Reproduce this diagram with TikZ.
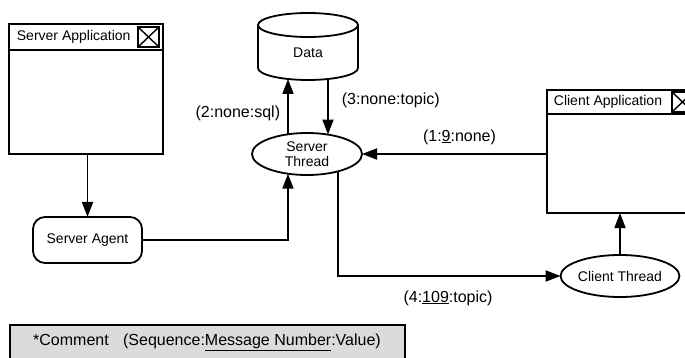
\documentclass[tikz,border=0pt]{standalone}
\usepackage{fontspec}
\setmainfont{Liberation Sans}
\usetikzlibrary{arrows.meta,shapes.geometric,calc}

\begin{document}
\begin{tikzpicture}[x=1pt,y=-1pt,line width=1.8pt,
  arr/.style={-{Triangle[length=15pt,width=11pt]}},
  win/.style={draw,rectangle,inner sep=0pt,outer sep=0pt},
  thread/.style={draw,ellipse,minimum width=110pt,minimum height=42pt,
    inner sep=0pt,outer sep=0pt,align=center,font=\fontsize{14}{15}\selectfont},
  agentbox/.style={draw,rectangle,rounded corners=12pt,minimum width=109pt,
    minimum height=46pt,inner sep=0pt,outer sep=0pt,font=\fontsize{14}{16}\selectfont},
  nodetext/.style={inner sep=0pt,font=\fontsize{14}{16}\selectfont},
  lbl/.style={inner sep=0pt,font=\fontsize{16}{18}\selectfont},
  closebox/.style={draw,rectangle,inner sep=0pt,outer sep=0pt,
    minimum width=21pt,minimum height=20pt,line width=1.4pt}]
\useasboundingbox (0,0) rectangle (685,358);

% Server application window
\node[win,minimum width=154pt,minimum height=130pt] (sapp) at (86,89) {};
\draw (9,50) -- (163,50);
\node[nodetext,anchor=west] (sapptitle) at (16,37) {Server Application};
\node[closebox] (sclose) at (148.5,37) {};
\draw[line width=1.4pt] (sclose.north west) -- (sclose.south east)
  (sclose.north east) -- (sclose.south west);

% Client application window (runs off the right edge)
\node[win,minimum width=151pt,minimum height=123pt] (capp) at (622.5,151.5) {};
\draw (547,114) -- (698,114);
\node[nodetext,anchor=west] (capptitle) at (553,102) {Client Application};
\node[closebox] (cclose) at (682.5,102) {};
\draw[line width=1.4pt] (cclose.north west) -- (cclose.south east)
  (cclose.north east) -- (cclose.south west);

% Data store
\draw (308,25) ellipse[x radius=50,y radius=12];
\draw (258,25) -- (258,68) arc[start angle=180,end angle=0,x radius=50,y radius=12] -- (358,25);
\node[nodetext] (data) at (308,53) {Data};
\coordinate (dbl) at (288,79);
\coordinate (dbr) at (328,79);

% Threads and agent
\node[thread] (sthread) at (307,154) {Server\\Thread};
\node[thread] (cthread) at (620,276) {Client Thread};
\node[agentbox] (agent) at (87.5,240) {Server Agent};

% Connectors
\draw[arr] (agent.north |- sapp.south) -- (agent.north);
\draw[arr] (agent.east) -| (sthread.226);
\draw[arr] (sthread.134 -| dbl) -- (dbl);
\draw[arr] (dbr) -- (sthread.43 -| dbr);
\draw[arr] (capp.west |- sthread.east) -- (sthread.east);
\draw[arr] (sthread.331) |- (cthread.west);
\draw[arr] (cthread.north) -- (cthread.north |- capp.south);

% Message labels
\node[lbl,anchor=east] (l2) at (281,113) {(2:none:sql)};
\node[lbl,anchor=west] (l3) at (341,100) {(3:none:topic)};
\node[lbl] (l1) at (459.5,137) {(1:\underline{9}:none)};
\node[lbl] (l4) at (448,298) {(4:\underline{109}:topic)};

% Legend
\draw[fill=black!14] (10,325) rectangle (405,372);
\node[lbl] (legend) at (207,342)
  {*Comment\hspace{0.9em}(Sequence:\underline{Message Number}:Value)};
\end{tikzpicture}
\end{document}
